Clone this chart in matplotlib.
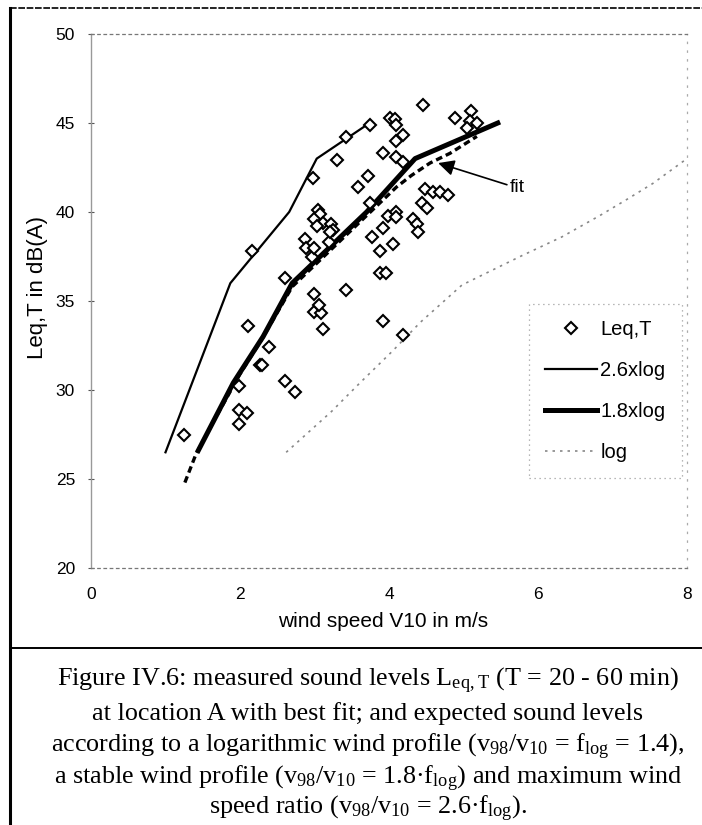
import matplotlib.pyplot as plt
from matplotlib.lines import Line2D

# measured sound levels Leq,T: wind speed V10 (m/s) and level (dB(A))
leq_v10 = [1.25, 1.99, 1.99, 2.09, 1.99, 2.27, 2.29, 2.39, 2.60, 2.74,
           2.11, 3.12, 3.92, 4.19, 2.99, 3.09, 3.06, 2.99, 3.42, 2.60,
           3.88, 3.96, 2.96, 3.88, 2.16, 2.87, 2.89, 2.99, 3.20, 4.06,
           3.77, 3.92, 3.05, 3.08, 2.99, 3.12, 3.03, 3.22, 3.25, 3.21,
           3.99, 4.10, 4.09, 4.32, 4.37, 4.39, 3.74, 4.44, 4.51, 4.48,
           4.59, 4.68, 4.79, 3.58, 3.72, 2.98, 3.30, 3.92, 4.09, 4.19,
           4.09, 4.19, 3.42, 3.74, 4.01, 4.08, 4.10, 4.46, 4.89, 5.10,
           5.09, 5.18, 5.05]
leq_db = [27.5, 28.1, 28.9, 28.7, 30.2, 31.4, 31.4, 32.4, 30.5, 29.9,
          33.6, 33.4, 33.9, 33.1, 34.4, 34.3, 34.8, 35.4, 35.6, 36.3,
          36.6, 36.6, 37.5, 37.8, 37.8, 38.5, 38.0, 38.0, 38.3, 38.2,
          38.6, 39.1, 40.1, 39.9, 39.6, 39.4, 39.2, 39.3, 39.0, 38.9,
          39.8, 40.0, 39.7, 39.6, 39.3, 38.9, 40.5, 40.5, 40.2, 41.3,
          41.1, 41.1, 40.95, 41.4, 42.0, 41.9, 42.9, 43.3, 43.1, 42.8,
          44.0, 44.3, 44.2, 44.9, 45.3, 45.2, 44.9, 46.0, 45.3, 45.7,
          45.1, 45.0, 44.7]

# expected levels, maximum wind speed ratio (2.6 x f_log)
v_26log = [1.0, 1.87, 2.66, 3.03, 3.74]
db_26log = [26.5, 36.0, 40.0, 43.0, 45.0]

# expected levels, stable wind profile (1.8 x f_log)
v_18log = [1.44, 1.91, 2.31, 2.70, 3.70, 4.35, 5.46]
db_18log = [26.6, 30.4, 33.0, 36.0, 40.0, 43.0, 45.0]

# expected levels, logarithmic wind profile
v_log = [2.62, 3.23, 3.61, 4.05, 4.42, 4.98, 5.76, 6.32, 6.83, 7.19, 7.54, 8.0]
db_log = [26.5, 28.8, 30.4, 32.2, 33.8, 35.9, 37.5, 38.6, 39.8, 40.7, 41.6, 43.0]

# best fit through the measurements
v_fit = [1.26, 1.40, 1.60, 1.80, 2.00, 2.30, 2.70, 3.00, 3.40, 3.80, 4.10, 4.30, 4.55, 4.82, 5.18]
db_fit = [24.8, 26.3, 27.9, 29.4, 30.9, 32.9, 35.8, 37.0, 38.6, 40.2, 41.4, 42.05, 42.75, 43.3, 44.25]

x_ticks = [0, 2, 4, 6, 8]
y_ticks = [20, 25, 30, 35, 40, 45, 50]

caption_lines = [
    r"Figure IV.6: measured sound levels $\mathregular{L_{eq,T}}$ (T = 20 - 60 min)",
    "at location A with best fit; and expected sound levels",
    r"according to a logarithmic wind profile ($\mathregular{v_{98}/v_{10}}$ = $\mathregular{f_{log}}$ = 1.4),",
    r"a stable wind profile ($\mathregular{v_{98}/v_{10}}$ = 1.8·$\mathregular{f_{log}}$) and maximum wind",
    r"speed ratio ($\mathregular{v_{98}/v_{10}}$ = 2.6·$\mathregular{f_{log}}$).",
]


def draw_chart(ax):
    """
    Measured levels, expected curves and the fit.
    """
    ax.plot(v_log, db_log, color='#888888', lw=1.2, linestyle=(0, (1.5, 3)), label='log')
    ax.plot(v_26log, db_26log, color='black', lw=1.6, label='2.6xlog')
    ax.plot(v_18log, db_18log, color='black', lw=3.6, label='1.8xlog')
    ax.plot(v_fit, db_fit, color='black', lw=2.4, dashes=(2, 1.2))
    ax.plot(leq_v10, leq_db, linestyle='none', marker='D', markersize=6.5,
            markerfacecolor='white', markeredgecolor='black', markeredgewidth=1.5,
            label='Leq,T', zorder=5)

    ax.annotate('fit', xy=(4.66, 42.75), xytext=(5.62, 41.35),
                fontsize=14, va='center', ha='left',
                arrowprops=dict(arrowstyle='-|>', color='black', lw=1.2,
                                mutation_scale=24, shrinkA=0, shrinkB=0))

    ax.set_xlim(0, 8)
    ax.set_ylim(20, 50)
    ax.set_xticks(x_ticks)
    ax.set_yticks(y_ticks)
    ax.tick_params(axis='y', direction='inout', length=5, width=0.8, colors='#555555',
                   labelcolor='black', labelsize=12.5, pad=9)
    ax.tick_params(axis='x', length=0, labelsize=12.5, pad=14)

    for side in ['top', 'bottom']:
        ax.spines[side].set_linestyle((0, (2, 3)))
        ax.spines[side].set_color('#777777')
        ax.spines[side].set_linewidth(0.9)
    ax.spines['right'].set_linestyle((0, (1, 6)))
    ax.spines['right'].set_color('#aaaaaa')
    ax.spines['right'].set_linewidth(0.9)
    ax.spines['left'].set_color('#999999')
    ax.spines['left'].set_linewidth(1.0)

    ax.set_xlabel('wind speed V10 in m/s', fontsize=15)
    ax.set_ylabel('Leq,T in dB(A)', fontsize=16)
    ax.xaxis.set_label_coords(0.49, -0.082)
    ax.yaxis.set_label_coords(-0.072, 0.526)

    # legend order as in the original
    handles, labels = ax.get_legend_handles_labels()
    order = [3, 1, 2, 0]
    leg = ax.legend([handles[i] for i in order], [labels[i] for i in order],
                    loc='center', bbox_to_anchor=(0.733, 0.165, 0.26, 0.333),
                    fontsize=14.5, frameon=True, fancybox=False,
                    handlelength=2.6, handletextpad=0.15, labelspacing=1.1,
                    borderpad=0.8, numpoints=1)
    frame = leg.get_frame()
    frame.set_edgecolor('#888888')
    frame.set_linestyle((0, (1, 3)))
    frame.set_linewidth(0.9)


def draw_caption(fig):
    """
    Frame lines and the serif caption below the chart.
    """
    x0 = 10 / 702
    y_top = 1 - 8 / 825
    y_sep = 1 - 648 / 825
    fig.add_artist(Line2D([x0, 1], [y_top, y_top], color='black', lw=1.2, linestyle=(0, (4, 1))))
    fig.add_artist(Line2D([x0, x0], [0, y_top], color='black', lw=2.2))
    fig.add_artist(Line2D([x0, 1], [y_sep, y_sep], color='black', lw=1.4))

    line_y = [681, 714, 747, 779, 809]
    for text, py in zip(caption_lines, line_y):
        fig.text(368 / 702, 1 - py / 825, text, ha='center', va='center',
                 fontsize=18.8, family='Liberation Serif')


def main():
    plt.rcParams['font.family'] = ['Liberation Sans', 'DejaVu Sans']
    fig = plt.figure(figsize=(7.02, 8.25), dpi=100)
    ax = fig.add_axes([91 / 702, 1 - 568 / 825, 596 / 702, 534 / 825])
    draw_chart(ax)
    draw_caption(fig)
    fig.savefig('out.png', dpi=100)


if __name__ == "__main__":
    main()
